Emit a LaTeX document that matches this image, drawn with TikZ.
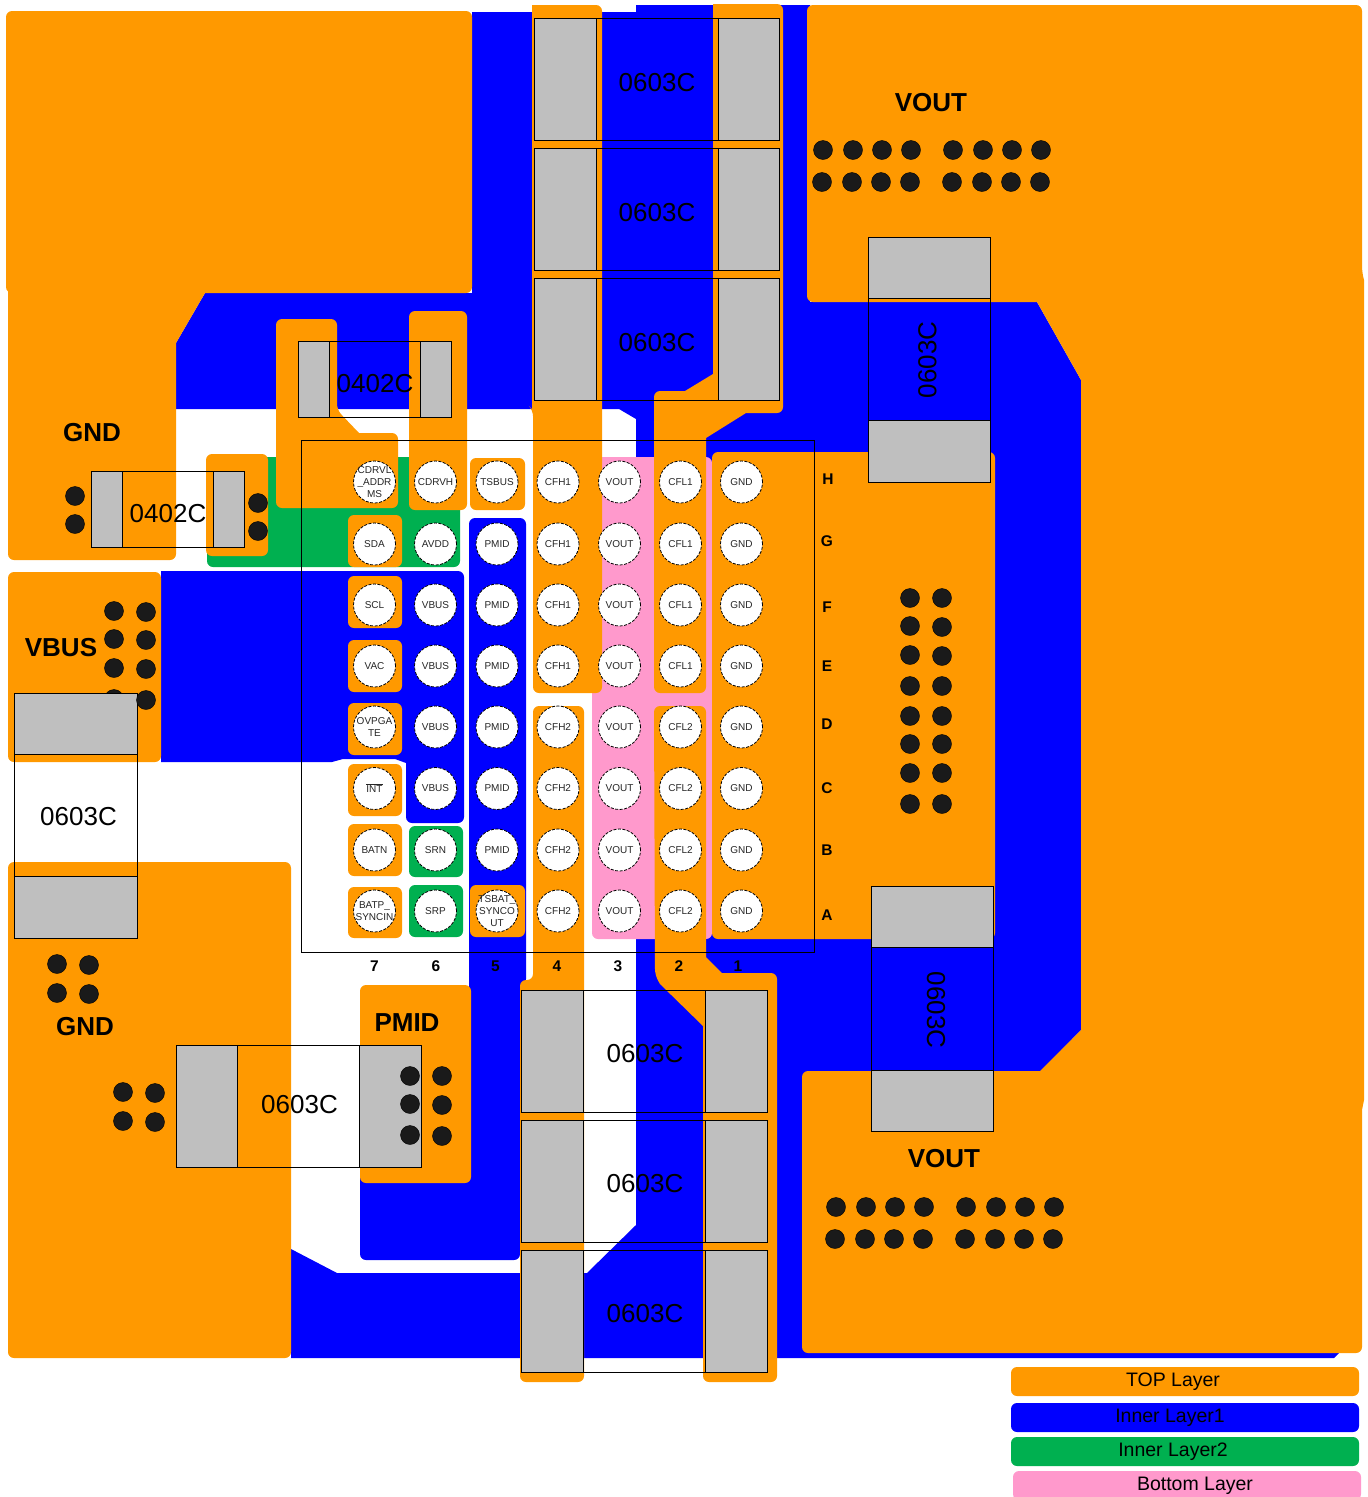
\documentclass[tikz,border=0pt]{standalone}
\usepackage{amsmath}
\usepackage{fontspec}
\usepackage{tikz}
\usepackage{xcolor}
\setmainfont{Liberation Sans}
\definecolor{top_layer}{HTML}{FF9900}
\definecolor{inner_one}{HTML}{0000FF}
\definecolor{inner_two}{HTML}{00B050}
\definecolor{bottom_layer}{HTML}{FF99CC}
\definecolor{pad_grey}{HTML}{BFBFBF}
\definecolor{via_dark}{HTML}{1A1A1A}
\definecolor{ball_ink}{HTML}{262626}
\begin{document}
\begin{tikzpicture}[x=1pt,y=-1pt,
top_area/.style={fill=top_layer,rounded corners=6pt},
one_area/.style={fill=inner_one},
two_area/.style={fill=inner_two,rounded corners=6pt},
pink_area/.style={fill=bottom_layer,rounded corners=6pt},
pad_box/.style={draw=black,fill=pad_grey,line width=1pt,xshift=-0.25pt,yshift=0.25pt},
outline_box/.style={draw=black,line width=1pt,xshift=-0.25pt,yshift=0.25pt},
ball_node/.style={circle,draw=black,line width=0.8pt,dash pattern=on 3pt off 1.5pt,fill=white,minimum size=42pt,inner sep=0pt,text=ball_ink,font=\fontsize{10}{12}\selectfont,align=center},
ball_text/.style={text=ball_ink,font=\fontsize{10}{12}\selectfont,align=center,inner sep=0pt},
via_node/.style={circle,draw=black,fill=via_dark,minimum size=19pt,inner sep=0pt},
part_node/.style={font=\fontsize{26}{30}\selectfont,inner sep=0pt},
net_node/.style={font=\fontsize{26}{30}\selectfont\bfseries,inner sep=0pt},
grid_node/.style={font=\fontsize{15.5}{18}\selectfont\bfseries,inner sep=0pt},
legend_node/.style={font=\fontsize{19.5}{23}\selectfont,inner sep=0pt}]

\useasboundingbox (0,0) rectangle (1368,1497);

% inner layer 1
\path[one_area] (205,293) -- (472,293) -- (472,12) -- (636,12) -- (636,5) -- (810,5) -- (810,302) -- (1037,302) -- (1081,380) -- (1081,1030) -- (1040,1072) -- (1000,1072) -- (1000,1300) -- (1340,1300) -- (1340,1352) -- (1334,1358) -- (291,1358) -- (291,1249) -- (337,1273) -- (587,1273) -- (636,1225) -- (636,419) -- (619,409) -- (176,409) -- (176,343) -- cycle;
\path[one_area,rounded corners=6pt] (161,571) -- (464,571) -- (464,823) -- (406,823) -- (406,770) [sharp corners] -- (406,763) -- (395,759) -- (343,759) -- (332,762) -- (161,762) -- cycle;
\path[one_area,rounded corners=6pt] (469,518) -- (526,518) -- (526,985) -- (520,985) -- (520,1260) -- (360,1260) -- (360,1150) -- (469,1150) -- cycle;

% inner layer 2
\path[two_area] (207,457) -- (460,457) -- (460,567) -- (207,567) -- cycle;
\path[two_area] (409,826) rectangle (463,877);
\path[two_area] (409,885) rectangle (463,937);

% bottom layer
\path[pink_area] (592,457) -- (712,457) -- (712,939) -- (592,939) -- cycle;

% top layer
\path[top_area] (6,11) rectangle (472,293);
\path[top_area] (8,285) -- (100,285) [sharp corners] -- (205,293) -- (176,343) [rounded corners=6pt] -- (176,560) -- (8,560) -- cycle;
\path[top_area] (206,454) rectangle (268,556);
\path[top_area] (8,572) rectangle (161,762);
\path[top_area] (8,862) rectangle (291,1358);
\path[top_area] (360,985) rectangle (471,1183);
\path[top_area] (276,319) -- (337,319) -- (337,410) [sharp corners] -- (359,433) [rounded corners=6pt] -- (398,433) -- (398,508) -- (276,508) -- cycle;
\path[top_area] (409,311) rectangle (467,510);
\path[top_area] (470,458) rectangle (525,510);
\path[top_area] (348,515) rectangle (402,567);
\path[top_area] (348,576) rectangle (402,628);
\path[top_area] (348,640) rectangle (402,692);
\path[top_area] (348,703) rectangle (402,755);
\path[top_area] (348,764) rectangle (402,816);
\path[top_area] (348,824) rectangle (402,876);
\path[top_area] (348,887) rectangle (402,938);
\path[top_area] (470,885) rectangle (525,937);
\path[top_area] (532,5) -- (602,5) -- (602,693) -- (533,693) -- (533,410) [sharp corners] -- (532,409) -- cycle;
\path[top_area] (533,706) -- (584,706) -- (584,1382) -- (520,1382) -- (520,980) -- (533,980) -- cycle;
\path[top_area] (654,391) [sharp corners] -- (685,391) -- (713,374) -- (713,4) [rounded corners=6pt] -- (783,4) -- (783,413) [sharp corners] -- (746,413) -- (706,438) [rounded corners=6pt] -- (706,693) -- (654,693) -- cycle;
\path[top_area] (654,706) -- (706,706) [sharp corners] -- (706,957) -- (722,973) [rounded corners=6pt] -- (777,973) -- (777,1382) -- (703,1382) [sharp corners] -- (703,1026) -- (660,984) [rounded corners=6pt] -- (655,975) -- cycle;
\path[top_area] (712,452) rectangle (995,939);
\path[top_area] (807,5) -- (1362,5) -- (1362,272) [sharp corners] -- (1364,280) -- (1364,1100) -- (1362,1110) [rounded corners=6pt] -- (1362,1353) -- (802,1353) -- (802,1071) [sharp corners] -- (1040,1071) -- (1081,1030) -- (1081,380) -- (1037,302) [rounded corners=6pt] -- (807,302) -- cycle;

% this via sits under the pad
\node[via_node] (vb7) at (114,699) {};

% parts
\path[pad_box] (535,19) rectangle (597,141);
\path[pad_box] (719,19) rectangle (780,141);
\path[outline_box] (535,19) rectangle (780,141);
\path[pad_box] (535,149) rectangle (597,271);
\path[pad_box] (719,149) rectangle (780,271);
\path[outline_box] (535,149) rectangle (780,271);
\path[pad_box] (535,279) rectangle (597,401);
\path[pad_box] (719,279) rectangle (780,401);
\path[outline_box] (535,279) rectangle (780,401);
\path[pad_box] (522,991) rectangle (584,1113);
\path[pad_box] (706,991) rectangle (768,1113);
\path[outline_box] (522,991) rectangle (768,1113);
\path[pad_box] (522,1121) rectangle (584,1243);
\path[pad_box] (706,1121) rectangle (768,1243);
\path[outline_box] (522,1121) rectangle (768,1243);
\path[pad_box] (522,1251) rectangle (584,1373);
\path[pad_box] (706,1251) rectangle (768,1373);
\path[outline_box] (522,1251) rectangle (768,1373);
\path[pad_box] (15,694) rectangle (138,755);
\path[pad_box] (15,877) rectangle (138,939);
\path[outline_box] (15,694) rectangle (138,939);
\path[pad_box] (869,238) rectangle (991,299);
\path[pad_box] (869,421) rectangle (991,483);
\path[outline_box] (869,238) rectangle (991,483);
\path[pad_box] (872,887) rectangle (994,948);
\path[pad_box] (872,1071) rectangle (994,1132);
\path[outline_box] (872,887) rectangle (994,1132);
\path[pad_box] (177,1046) rectangle (238,1168);
\path[pad_box] (360,1046) rectangle (422,1168);
\path[outline_box] (177,1046) rectangle (422,1168);
\path[pad_box] (92,472) rectangle (123,548);
\path[pad_box] (214,472) rectangle (245,548);
\path[outline_box] (92,472) rectangle (245,548);
\path[pad_box] (299,342) rectangle (330,418);
\path[pad_box] (421,342) rectangle (452,418);
\path[outline_box] (299,342) rectangle (452,418);

% package frame
\path[outline_box] (302,441) rectangle (815,953);

\node[part_node] (c0) at (657,82.5) {0603C};
\node[part_node] (c1) at (657,212.5) {0603C};
\node[part_node] (c2) at (657,342.5) {0603C};
\node[part_node] (c3) at (645,1053.5) {0603C};
\node[part_node] (c4) at (645,1183.5) {0603C};
\node[part_node] (c5) at (645,1313.5) {0603C};
\node[part_node] (c6) at (78.5,817) {0603C};
\node[part_node,rotate=90] (c7) at (927.5,360) {0603C};
\node[part_node,rotate=-90] (c8) at (936,1010) {0603C};
\node[part_node] (c9) at (299.5,1104.5) {0603C};
\node[part_node] (c10) at (168,514) {0402C};
\node[part_node] (c11) at (375,383.5) {0402C};

\node[net_node] (n0) at (931,102.5) {VOUT};
\node[net_node] (n1) at (944,1158.5) {VOUT};
\node[net_node] (n2) at (92,432.5) {GND};
\node[net_node] (n3) at (85,1026.5) {GND};
\node[net_node] (n4) at (61,647.5) {VBUS};
\node[net_node] (n5) at (407,1022.5) {PMID};

% balls
\node[ball_node,label={[ball_text]center:CDRVL\\\_ADDR\\MS}] (H7) at (374.5,482) {};
\node[ball_node] (H6) at (435.5,482) {CDRVH};
\node[ball_node] (H5) at (497,482) {TSBUS};
\node[ball_node] (H4) at (558,482) {CFH1};
\node[ball_node] (H3) at (619.5,482) {VOUT};
\node[ball_node] (H2) at (680.5,482) {CFL1};
\node[ball_node] (H1) at (741.5,482) {GND};
\node[ball_node] (G7) at (374.5,544) {SDA};
\node[ball_node] (G6) at (435.5,544) {AVDD};
\node[ball_node] (G5) at (497,544) {PMID};
\node[ball_node] (G4) at (558,544) {CFH1};
\node[ball_node] (G3) at (619.5,544) {VOUT};
\node[ball_node] (G2) at (680.5,544) {CFL1};
\node[ball_node] (G1) at (741.5,544) {GND};
\node[ball_node] (F7) at (374.5,605) {SCL};
\node[ball_node] (F6) at (435.5,605) {VBUS};
\node[ball_node] (F5) at (497,605) {PMID};
\node[ball_node] (F4) at (558,605) {CFH1};
\node[ball_node] (F3) at (619.5,605) {VOUT};
\node[ball_node] (F2) at (680.5,605) {CFL1};
\node[ball_node] (F1) at (741.5,605) {GND};
\node[ball_node] (E7) at (374.5,666) {VAC};
\node[ball_node] (E6) at (435.5,666) {VBUS};
\node[ball_node] (E5) at (497,666) {PMID};
\node[ball_node] (E4) at (558,666) {CFH1};
\node[ball_node] (E3) at (619.5,666) {VOUT};
\node[ball_node] (E2) at (680.5,666) {CFL1};
\node[ball_node] (E1) at (741.5,666) {GND};
\node[ball_node,label={[ball_text]center:OVPGA\\TE}] (D7) at (374.5,727) {};
\node[ball_node] (D6) at (435.5,727) {VBUS};
\node[ball_node] (D5) at (497,727) {PMID};
\node[ball_node] (D4) at (558,727) {CFH2};
\node[ball_node] (D3) at (619.5,727) {VOUT};
\node[ball_node] (D2) at (680.5,727) {CFL2};
\node[ball_node] (D1) at (741.5,727) {GND};
\node[ball_node] (C7) at (374.5,788.5) {$\overline{\mbox{INT}}$};
\node[ball_node] (C6) at (435.5,788.5) {VBUS};
\node[ball_node] (C5) at (497,788.5) {PMID};
\node[ball_node] (C4) at (558,788.5) {CFH2};
\node[ball_node] (C3) at (619.5,788.5) {VOUT};
\node[ball_node] (C2) at (680.5,788.5) {CFL2};
\node[ball_node] (C1) at (741.5,788.5) {GND};
\node[ball_node] (B7) at (374.5,850) {BATN};
\node[ball_node] (B6) at (435.5,850) {SRN};
\node[ball_node] (B5) at (497,850) {PMID};
\node[ball_node] (B4) at (558,850) {CFH2};
\node[ball_node] (B3) at (619.5,850) {VOUT};
\node[ball_node] (B2) at (680.5,850) {CFL2};
\node[ball_node] (B1) at (741.5,850) {GND};
\node[ball_node,label={[ball_text]center:BATP\_\\SYNCIN}] (A7) at (374.5,911) {};
\node[ball_node] (A6) at (435.5,911) {SRP};
\node[ball_node,label={[ball_text]center:TSBAT\_\\SYNCO\\UT}] (A5) at (497,911) {};
\node[ball_node] (A4) at (558,911) {CFH2};
\node[ball_node] (A3) at (619.5,911) {VOUT};
\node[ball_node] (A2) at (680.5,911) {CFL2};
\node[ball_node] (A1) at (741.5,911) {GND};

% row and column marks
\node[grid_node] (rH) at (828,479) {H};
\node[grid_node] (rG) at (827,541) {G};
\node[grid_node] (rF) at (827,607) {F};
\node[grid_node] (rE) at (827,666) {E};
\node[grid_node] (rD) at (827,724) {D};
\node[grid_node] (rC) at (827,788) {C};
\node[grid_node] (rB) at (827,850) {B};
\node[grid_node] (rA) at (827,915) {A};
\node[grid_node] (k7) at (374.5,966) {7};
\node[grid_node] (k6) at (436,966) {6};
\node[grid_node] (k5) at (495.5,966) {5};
\node[grid_node] (k4) at (557,966) {4};
\node[grid_node] (k3) at (618,966) {3};
\node[grid_node] (k2) at (679,966) {2};
\node[grid_node] (k1) at (738,966) {1};

% vias
\node[via_node] (t0) at (823,150) {};
\node[via_node] (t1) at (853,150) {};
\node[via_node] (t2) at (882,150) {};
\node[via_node] (t3) at (911,150) {};
\node[via_node] (t4) at (953,150) {};
\node[via_node] (t5) at (983,150) {};
\node[via_node] (t6) at (1012,150) {};
\node[via_node] (t7) at (1041,150) {};
\node[via_node] (t8) at (822,182) {};
\node[via_node] (t9) at (852,182) {};
\node[via_node] (t10) at (881,182) {};
\node[via_node] (t11) at (910,182) {};
\node[via_node] (t12) at (952,182) {};
\node[via_node] (t13) at (982,182) {};
\node[via_node] (t14) at (1011,182) {};
\node[via_node] (t15) at (1040,182) {};
\node[via_node] (b0) at (836,1207) {};
\node[via_node] (b1) at (866,1207) {};
\node[via_node] (b2) at (895,1207) {};
\node[via_node] (b3) at (924,1207) {};
\node[via_node] (b4) at (966,1207) {};
\node[via_node] (b5) at (996,1207) {};
\node[via_node] (b6) at (1025,1207) {};
\node[via_node] (b7) at (1054,1207) {};
\node[via_node] (b8) at (835,1239) {};
\node[via_node] (b9) at (865,1239) {};
\node[via_node] (b10) at (894,1239) {};
\node[via_node] (b11) at (923,1239) {};
\node[via_node] (b12) at (965,1239) {};
\node[via_node] (b13) at (995,1239) {};
\node[via_node] (b14) at (1024,1239) {};
\node[via_node] (b15) at (1053,1239) {};
\node[via_node] (g0) at (910,598) {};
\node[via_node] (g1) at (942,598) {};
\node[via_node] (g2) at (910,626) {};
\node[via_node] (g3) at (942,627) {};
\node[via_node] (g4) at (910,655) {};
\node[via_node] (g5) at (942,656) {};
\node[via_node] (g6) at (910,686) {};
\node[via_node] (g7) at (942,686) {};
\node[via_node] (g8) at (910,716) {};
\node[via_node] (g9) at (942,716) {};
\node[via_node] (g10) at (910,744) {};
\node[via_node] (g11) at (942,744) {};
\node[via_node] (g12) at (910,773) {};
\node[via_node] (g13) at (942,773) {};
\node[via_node] (g14) at (910,804) {};
\node[via_node] (g15) at (942,804) {};
\node[via_node] (vb0) at (114,611) {};
\node[via_node] (vb1) at (146,612) {};
\node[via_node] (vb2) at (114,639) {};
\node[via_node] (vb3) at (146,640) {};
\node[via_node] (vb4) at (114,668) {};
\node[via_node] (vb5) at (146,669) {};
\node[via_node] (vb6) at (146,700) {};
\node[via_node] (l0) at (75,496) {};
\node[via_node] (l1) at (75,524) {};
\node[via_node] (l2) at (258,503) {};
\node[via_node] (l3) at (258,531) {};
\node[via_node] (l4) at (57,964) {};
\node[via_node] (l5) at (89,965) {};
\node[via_node] (l6) at (57,993) {};
\node[via_node] (l7) at (89,994) {};
\node[via_node] (l8) at (123,1092) {};
\node[via_node] (l9) at (155,1093) {};
\node[via_node] (l10) at (123,1121) {};
\node[via_node] (l11) at (155,1122) {};
\node[via_node] (p0) at (410,1076) {};
\node[via_node] (p1) at (442,1076) {};
\node[via_node] (p2) at (410,1104) {};
\node[via_node] (p3) at (442,1105) {};
\node[via_node] (p4) at (410,1135) {};
\node[via_node] (p5) at (442,1136) {};

% legend
\path[top_area] (1011,1367) rectangle (1359,1396);
\path[fill=inner_one,rounded corners=6pt] (1011,1403) rectangle (1359,1432);
\path[two_area] (1011,1437) rectangle (1359,1466);
\path[pink_area] (1013,1471) rectangle (1361,1500);
\node[legend_node] (top_key) at (1173,1382) {TOP Layer};
\node[legend_node] (one_key) at (1170,1418) {Inner Layer1};
\node[legend_node] (two_key) at (1173,1452) {Inner Layer2};
\node[legend_node] (bot_key) at (1195,1486) {Bottom Layer};

\end{tikzpicture}
\end{document}
